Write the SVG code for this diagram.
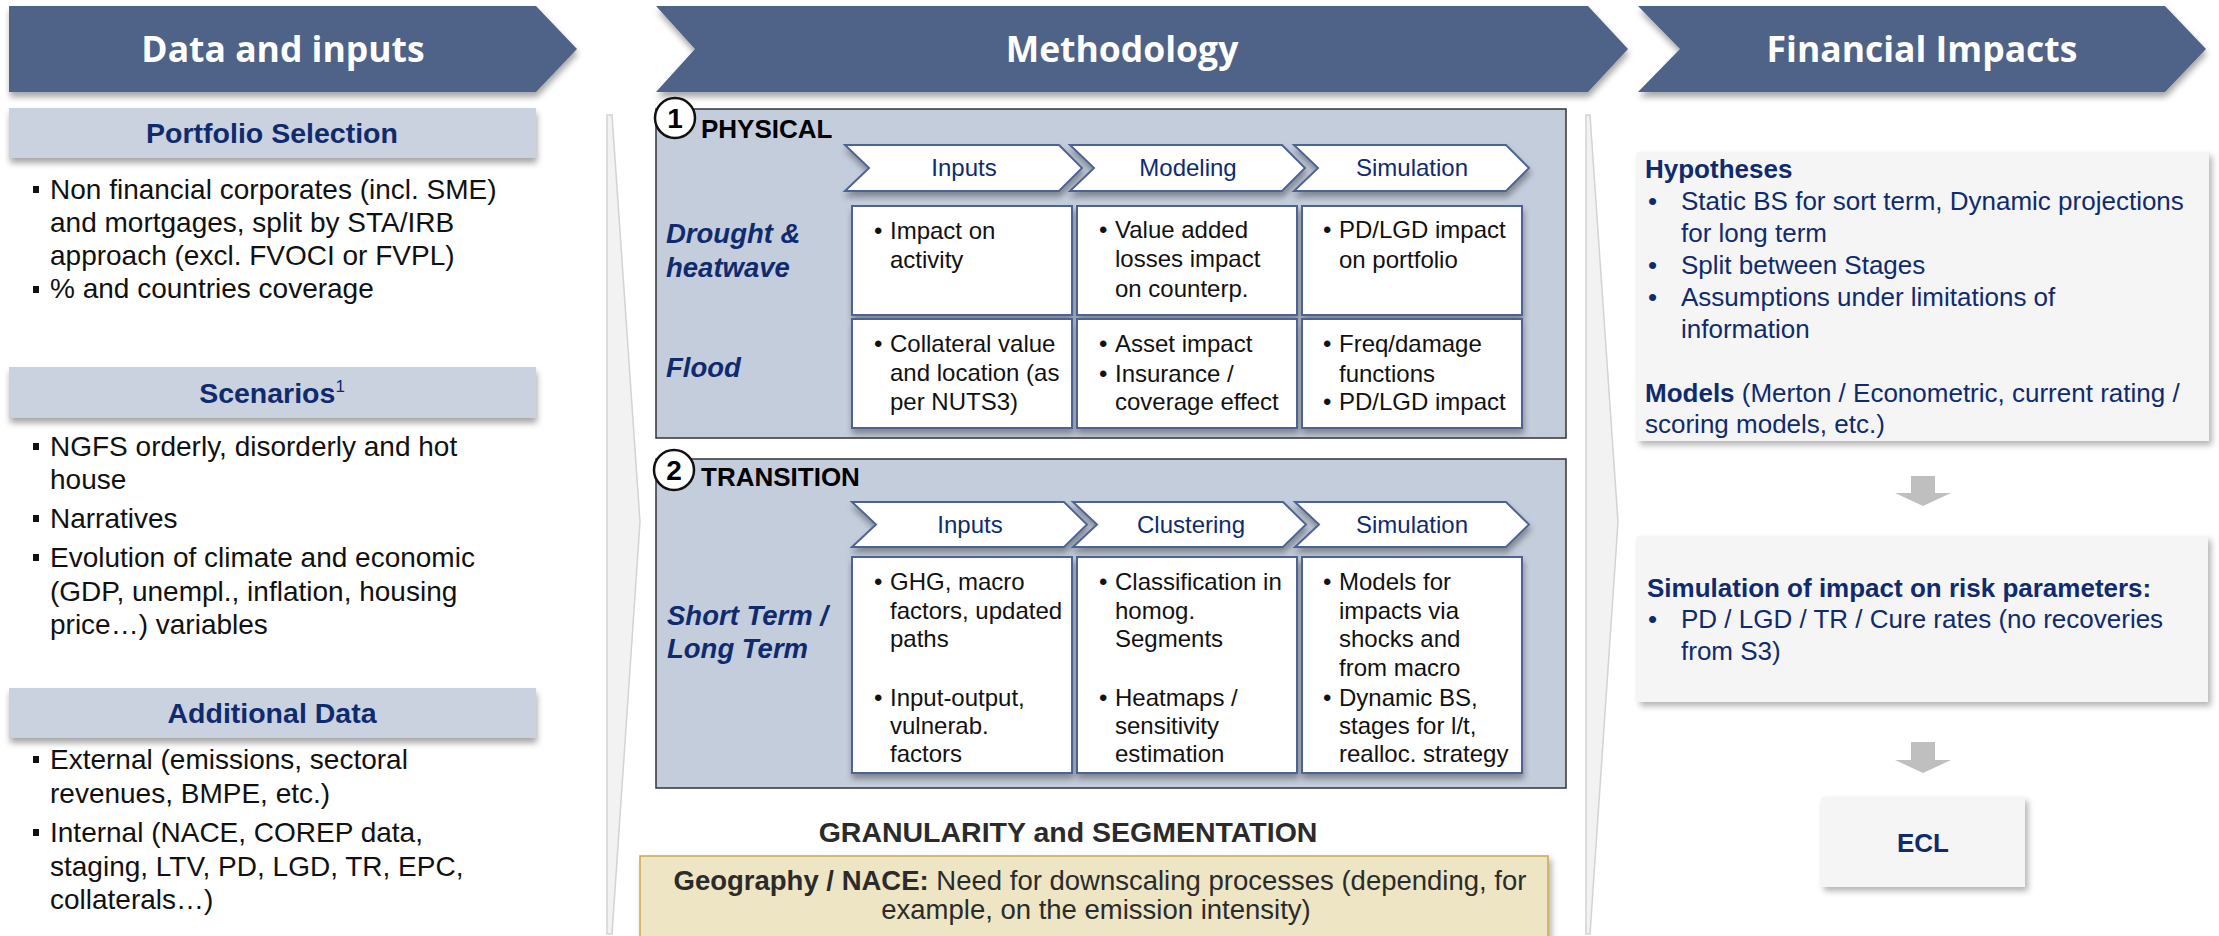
<svg xmlns="http://www.w3.org/2000/svg" width="2219" height="936" viewBox="0 0 2219 936">
<defs>
<filter id="shd" x="-5%" y="-10%" width="110%" height="140%"><feDropShadow dx="1" dy="5" stdDeviation="3" flood-color="#000" flood-opacity="0.35"/></filter>
<filter id="shs" x="-5%" y="-10%" width="115%" height="130%"><feDropShadow dx="3" dy="4" stdDeviation="3" flood-color="#000" flood-opacity="0.3"/></filter>
</defs>
<style>
.hdr{fill:#4F6287}
.hdrt{font-family:'Open Sans','Noto Sans',sans-serif;font-weight:700;font-size:35.5px;fill:#fff;text-anchor:middle}
.band{fill:#CAD2DF}
.bandt{font-family:'Liberation Sans',Arial,sans-serif;font-weight:700;font-size:28.5px;fill:#0F2B6E;text-anchor:middle}
.lt{font-family:'Liberation Sans',Arial,sans-serif;font-size:28px;fill:#111}
.sq{fill:#111}
.panel{fill:#C4CDDC;stroke:#333;stroke-width:1.5}
.num{fill:#fff;stroke:#111;stroke-width:2.5}
.numt{font-family:'Liberation Sans',Arial,sans-serif;font-weight:700;font-size:28px;fill:#000;text-anchor:middle}
.ptitle{font-family:'Liberation Sans',Arial,sans-serif;font-weight:700;font-size:26px;fill:#000}
.chev{fill:#fff;stroke:#4D6494;stroke-width:2}
.chevt{font-family:'Liberation Sans',Arial,sans-serif;font-size:24px;fill:#0F2B6E;text-anchor:middle}
.box{fill:#fff;stroke:#4D6494;stroke-width:2}
.bt{font-family:'Liberation Sans',Arial,sans-serif;font-size:24px;fill:#111}
.rowl{font-family:'Liberation Sans',Arial,sans-serif;font-weight:700;font-style:italic;font-size:27.5px;fill:#0F2B6E}
.gran{font-family:'Liberation Sans',Arial,sans-serif;font-weight:700;font-size:28.5px;fill:#2b2b2b;text-anchor:middle}
.yel{fill:#EDE5C3;stroke:#C9A94A;stroke-width:1.5}
.yt{font-family:'Liberation Sans',Arial,sans-serif;font-size:27.5px;fill:#2b2b2b;text-anchor:middle}
.rbox{fill:#F5F5F5}
.rt{font-family:'Liberation Sans',Arial,sans-serif;font-size:26px;fill:#0F2B6E}
.b{font-weight:700}
.div{fill:#F2F2F2;stroke:#D3D3D3;stroke-width:1.5}
.arr{fill:#BFBFBF}
</style>
<rect width="2219" height="936" fill="#fff"/>

<!-- dividers -->
<g id="dividers">
<path class="div" d="M607,115 L612,115 L640,522 L612,934 L607,934 Z"/>
<path class="div" d="M1586,115 L1590,115 L1618,522 L1590,934 L1586,934 Z"/>
</g>

<!-- LEFT COLUMN -->
<g id="hdr-data">
<path class="hdr" filter="url(#shd)" d="M9,6 H536 L577,49 L536,92 H9 Z"/>
<text class="hdrt" x="283" y="62">Data and inputs</text>
</g>

<g id="portfolio">
<rect class="band" filter="url(#shd)" x="9" y="108" width="527" height="50"/>
<text class="bandt" x="272" y="143">Portfolio Selection</text>
<rect class="sq" x="33" y="186" width="6" height="7"/>
<rect class="sq" x="33" y="286" width="6" height="7"/>
<text class="lt"><tspan x="50" y="199">Non financial corporates (incl. SME)</tspan><tspan x="50" y="232">and mortgages, split by STA/IRB</tspan><tspan x="50" y="265">approach (excl. FVOCI or FVPL)</tspan><tspan x="50" y="298">% and countries coverage</tspan></text>
</g>

<g id="scenarios">
<rect class="band" filter="url(#shd)" x="9" y="367" width="527" height="51"/>
<text class="bandt" x="272" y="403">Scenarios<tspan font-size="17" font-weight="400" dy="-11">1</tspan></text>
<rect class="sq" x="33" y="443" width="6" height="7"/>
<rect class="sq" x="33" y="515" width="6" height="7"/>
<rect class="sq" x="33" y="554" width="6" height="7"/>
<text class="lt"><tspan x="50" y="456">NGFS orderly, disorderly and hot</tspan><tspan x="50" y="489">house</tspan><tspan x="50" y="528">Narratives</tspan><tspan x="50" y="567">Evolution of climate and economic</tspan><tspan x="50" y="601">(GDP, unempl., inflation, housing</tspan><tspan x="50" y="634">price…) variables</tspan></text>
</g>

<g id="additional">
<rect class="band" filter="url(#shd)" x="9" y="688" width="527" height="50"/>
<text class="bandt" x="272" y="723">Additional Data</text>
<rect class="sq" x="33" y="756" width="6" height="7"/>
<rect class="sq" x="33" y="829" width="6" height="7"/>
<text class="lt"><tspan x="50" y="769">External (emissions, sectoral</tspan><tspan x="50" y="803">revenues, BMPE, etc.)</tspan><tspan x="50" y="842">Internal (NACE, COREP data,</tspan><tspan x="50" y="876">staging, LTV, PD, LGD, TR, EPC,</tspan><tspan x="50" y="909">collaterals…)</tspan></text>
</g>

<!-- MIDDLE COLUMN -->
<g id="hdr-method">
<path class="hdr" filter="url(#shd)" d="M656,6 H1588 L1628,49 L1588,92 H656 L695,49 Z"/>
<text class="hdrt" x="1122" y="62">Methodology</text>
</g>

<g id="physical">
<rect class="panel" x="656" y="109" width="910" height="329"/>
<circle class="num" cx="675" cy="118" r="20"/>
<text class="numt" x="675" y="128">1</text>
<text class="ptitle" x="701" y="138">PHYSICAL</text>
<g filter="url(#shd)">
<path class="chev" d="M845,145 H1059 L1082,168 L1059,191 H845 L869,168 Z"/>
<path class="chev" d="M1070,145 H1282 L1305,168 L1282,191 H1070 L1094,168 Z"/>
<path class="chev" d="M1294,145 H1506 L1529,168 L1506,191 H1294 L1318,168 Z"/>
</g>
<text class="chevt" x="964" y="176">Inputs</text>
<text class="chevt" x="1188" y="176">Modeling</text>
<text class="chevt" x="1412" y="176">Simulation</text>
<text class="rowl"><tspan x="666" y="243">Drought &amp;</tspan><tspan x="666" y="277">heatwave</tspan></text>
<text class="rowl" x="666" y="377">Flood</text>
<g filter="url(#shd)">
<rect class="box" x="852" y="206" width="220" height="109"/>
<rect class="box" x="1077" y="206" width="220" height="109"/>
<rect class="box" x="1302" y="206" width="220" height="109"/>
<rect class="box" x="852" y="319" width="220" height="109"/>
<rect class="box" x="1077" y="319" width="220" height="109"/>
<rect class="box" x="1302" y="319" width="220" height="109"/>
</g>
<text class="bt"><tspan x="874" y="239">•</tspan><tspan x="890" y="239">Impact on</tspan><tspan x="890" y="268">activity</tspan></text>
<text class="bt"><tspan x="1099" y="238">•</tspan><tspan x="1115" y="238">Value added</tspan><tspan x="1115" y="267">losses impact</tspan><tspan x="1115" y="297">on counterp.</tspan></text>
<text class="bt"><tspan x="1323" y="238">•</tspan><tspan x="1339" y="238">PD/LGD impact</tspan><tspan x="1339" y="268">on portfolio</tspan></text>
<text class="bt"><tspan x="874" y="352">•</tspan><tspan x="890" y="352">Collateral value</tspan><tspan x="890" y="381">and location (as</tspan><tspan x="890" y="410">per NUTS3)</tspan></text>
<text class="bt"><tspan x="1099" y="352">•</tspan><tspan x="1115" y="352">Asset impact</tspan><tspan x="1099" y="382">•</tspan><tspan x="1115" y="382">Insurance /</tspan><tspan x="1115" y="410">coverage effect</tspan></text>
<text class="bt"><tspan x="1323" y="352">•</tspan><tspan x="1339" y="352">Freq/damage</tspan><tspan x="1339" y="382">functions</tspan><tspan x="1323" y="410">•</tspan><tspan x="1339" y="410">PD/LGD impact</tspan></text>
</g>

<g id="transition">
<rect class="panel" x="656" y="459" width="910" height="329"/>
<circle class="num" cx="674" cy="470" r="20"/>
<text class="numt" x="674" y="480">2</text>
<text class="ptitle" x="701" y="486">TRANSITION</text>
<g filter="url(#shd)">
<path class="chev" d="M852,502 H1064 L1087,524.5 L1064,547 H852 L876,524.5 Z"/>
<path class="chev" d="M1073,502 H1283 L1306,524.5 L1283,547 H1073 L1097,524.5 Z"/>
<path class="chev" d="M1295,502 H1506 L1529,524.5 L1506,547 H1295 L1319,524.5 Z"/>
</g>
<text class="chevt" x="970" y="533">Inputs</text>
<text class="chevt" x="1191" y="533">Clustering</text>
<text class="chevt" x="1412" y="533">Simulation</text>
<text class="rowl"><tspan x="667" y="625">Short Term /</tspan><tspan x="667" y="658">Long Term</tspan></text>
<g filter="url(#shd)">
<rect class="box" x="852" y="557" width="220" height="216"/>
<rect class="box" x="1077" y="557" width="220" height="216"/>
<rect class="box" x="1302" y="557" width="220" height="216"/>
</g>
<text class="bt"><tspan x="874" y="590">•</tspan><tspan x="890" y="590">GHG, macro</tspan><tspan x="890" y="619">factors, updated</tspan><tspan x="890" y="647">paths</tspan><tspan x="874" y="706">•</tspan><tspan x="890" y="706">Input-output,</tspan><tspan x="890" y="734">vulnerab.</tspan><tspan x="890" y="762">factors</tspan></text>
<text class="bt"><tspan x="1099" y="590">•</tspan><tspan x="1115" y="590">Classification in</tspan><tspan x="1115" y="619">homog.</tspan><tspan x="1115" y="647">Segments</tspan><tspan x="1099" y="706">•</tspan><tspan x="1115" y="706">Heatmaps /</tspan><tspan x="1115" y="734">sensitivity</tspan><tspan x="1115" y="762">estimation</tspan></text>
<text class="bt"><tspan x="1323" y="590">•</tspan><tspan x="1339" y="590">Models for</tspan><tspan x="1339" y="619">impacts via</tspan><tspan x="1339" y="647">shocks and</tspan><tspan x="1339" y="676">from macro</tspan><tspan x="1323" y="706">•</tspan><tspan x="1339" y="706">Dynamic BS,</tspan><tspan x="1339" y="734">stages for l/t,</tspan><tspan x="1339" y="762">realloc. strategy</tspan></text>
</g>

<g id="granularity">
<text class="gran" x="1068" y="842">GRANULARITY and SEGMENTATION</text>
<rect class="yel" filter="url(#shs)" x="640" y="856" width="908" height="100"/>
<text class="yt"><tspan x="1100" y="890"><tspan class="b">Geography / NACE:</tspan> Need for downscaling processes (depending, for</tspan><tspan x="1096" y="919">example, on the emission intensity)</tspan></text>
</g>

<!-- RIGHT COLUMN -->
<g id="hdr-fin">
<path class="hdr" filter="url(#shd)" d="M1638,6 H2165 L2206,49 L2165,92 H1638 L1680,49 Z"/>
<text class="hdrt" x="1922" y="62">Financial Impacts</text>
</g>

<g id="hypotheses">
<rect class="rbox" filter="url(#shs)" x="1637" y="152" width="572" height="289"/>
<text class="rt"><tspan class="b" x="1645" y="178">Hypotheses</tspan><tspan x="1648" y="210">•</tspan><tspan x="1681" y="210">Static BS for sort term, Dynamic projections</tspan><tspan x="1681" y="242">for long term</tspan><tspan x="1648" y="274">•</tspan><tspan x="1681" y="274">Split between Stages</tspan><tspan x="1648" y="306">•</tspan><tspan x="1681" y="306">Assumptions under limitations of</tspan><tspan x="1681" y="338">information</tspan><tspan x="1645" y="402"><tspan class="b">Models</tspan> (Merton / Econometric, current rating /</tspan><tspan x="1645" y="433">scoring models, etc.)</tspan></text>
</g>

<g id="simulation">
<rect class="rbox" filter="url(#shs)" x="1637" y="536" width="571" height="166"/>
<text class="rt"><tspan class="b" x="1647" y="597">Simulation of impact on risk parameters:</tspan><tspan x="1648" y="628">•</tspan><tspan x="1681" y="628">PD / LGD / TR / Cure rates (no recoveries</tspan><tspan x="1681" y="660">from S3)</tspan></text>
</g>

<g id="ecl">
<rect class="rbox" filter="url(#shs)" x="1821" y="797" width="204" height="90"/>
<text class="rt b" x="1923" y="852" text-anchor="middle" font-size="26.5">ECL</text>
</g>

<g id="connectors">
<path class="arr" d="M1911,476 H1935 V493 H1951 L1923,506 L1895,493 H1911 Z"/>
<path class="arr" d="M1911,742 H1935 V760 H1951 L1923,773 L1895,760 H1911 Z"/>
</g>
</svg>
